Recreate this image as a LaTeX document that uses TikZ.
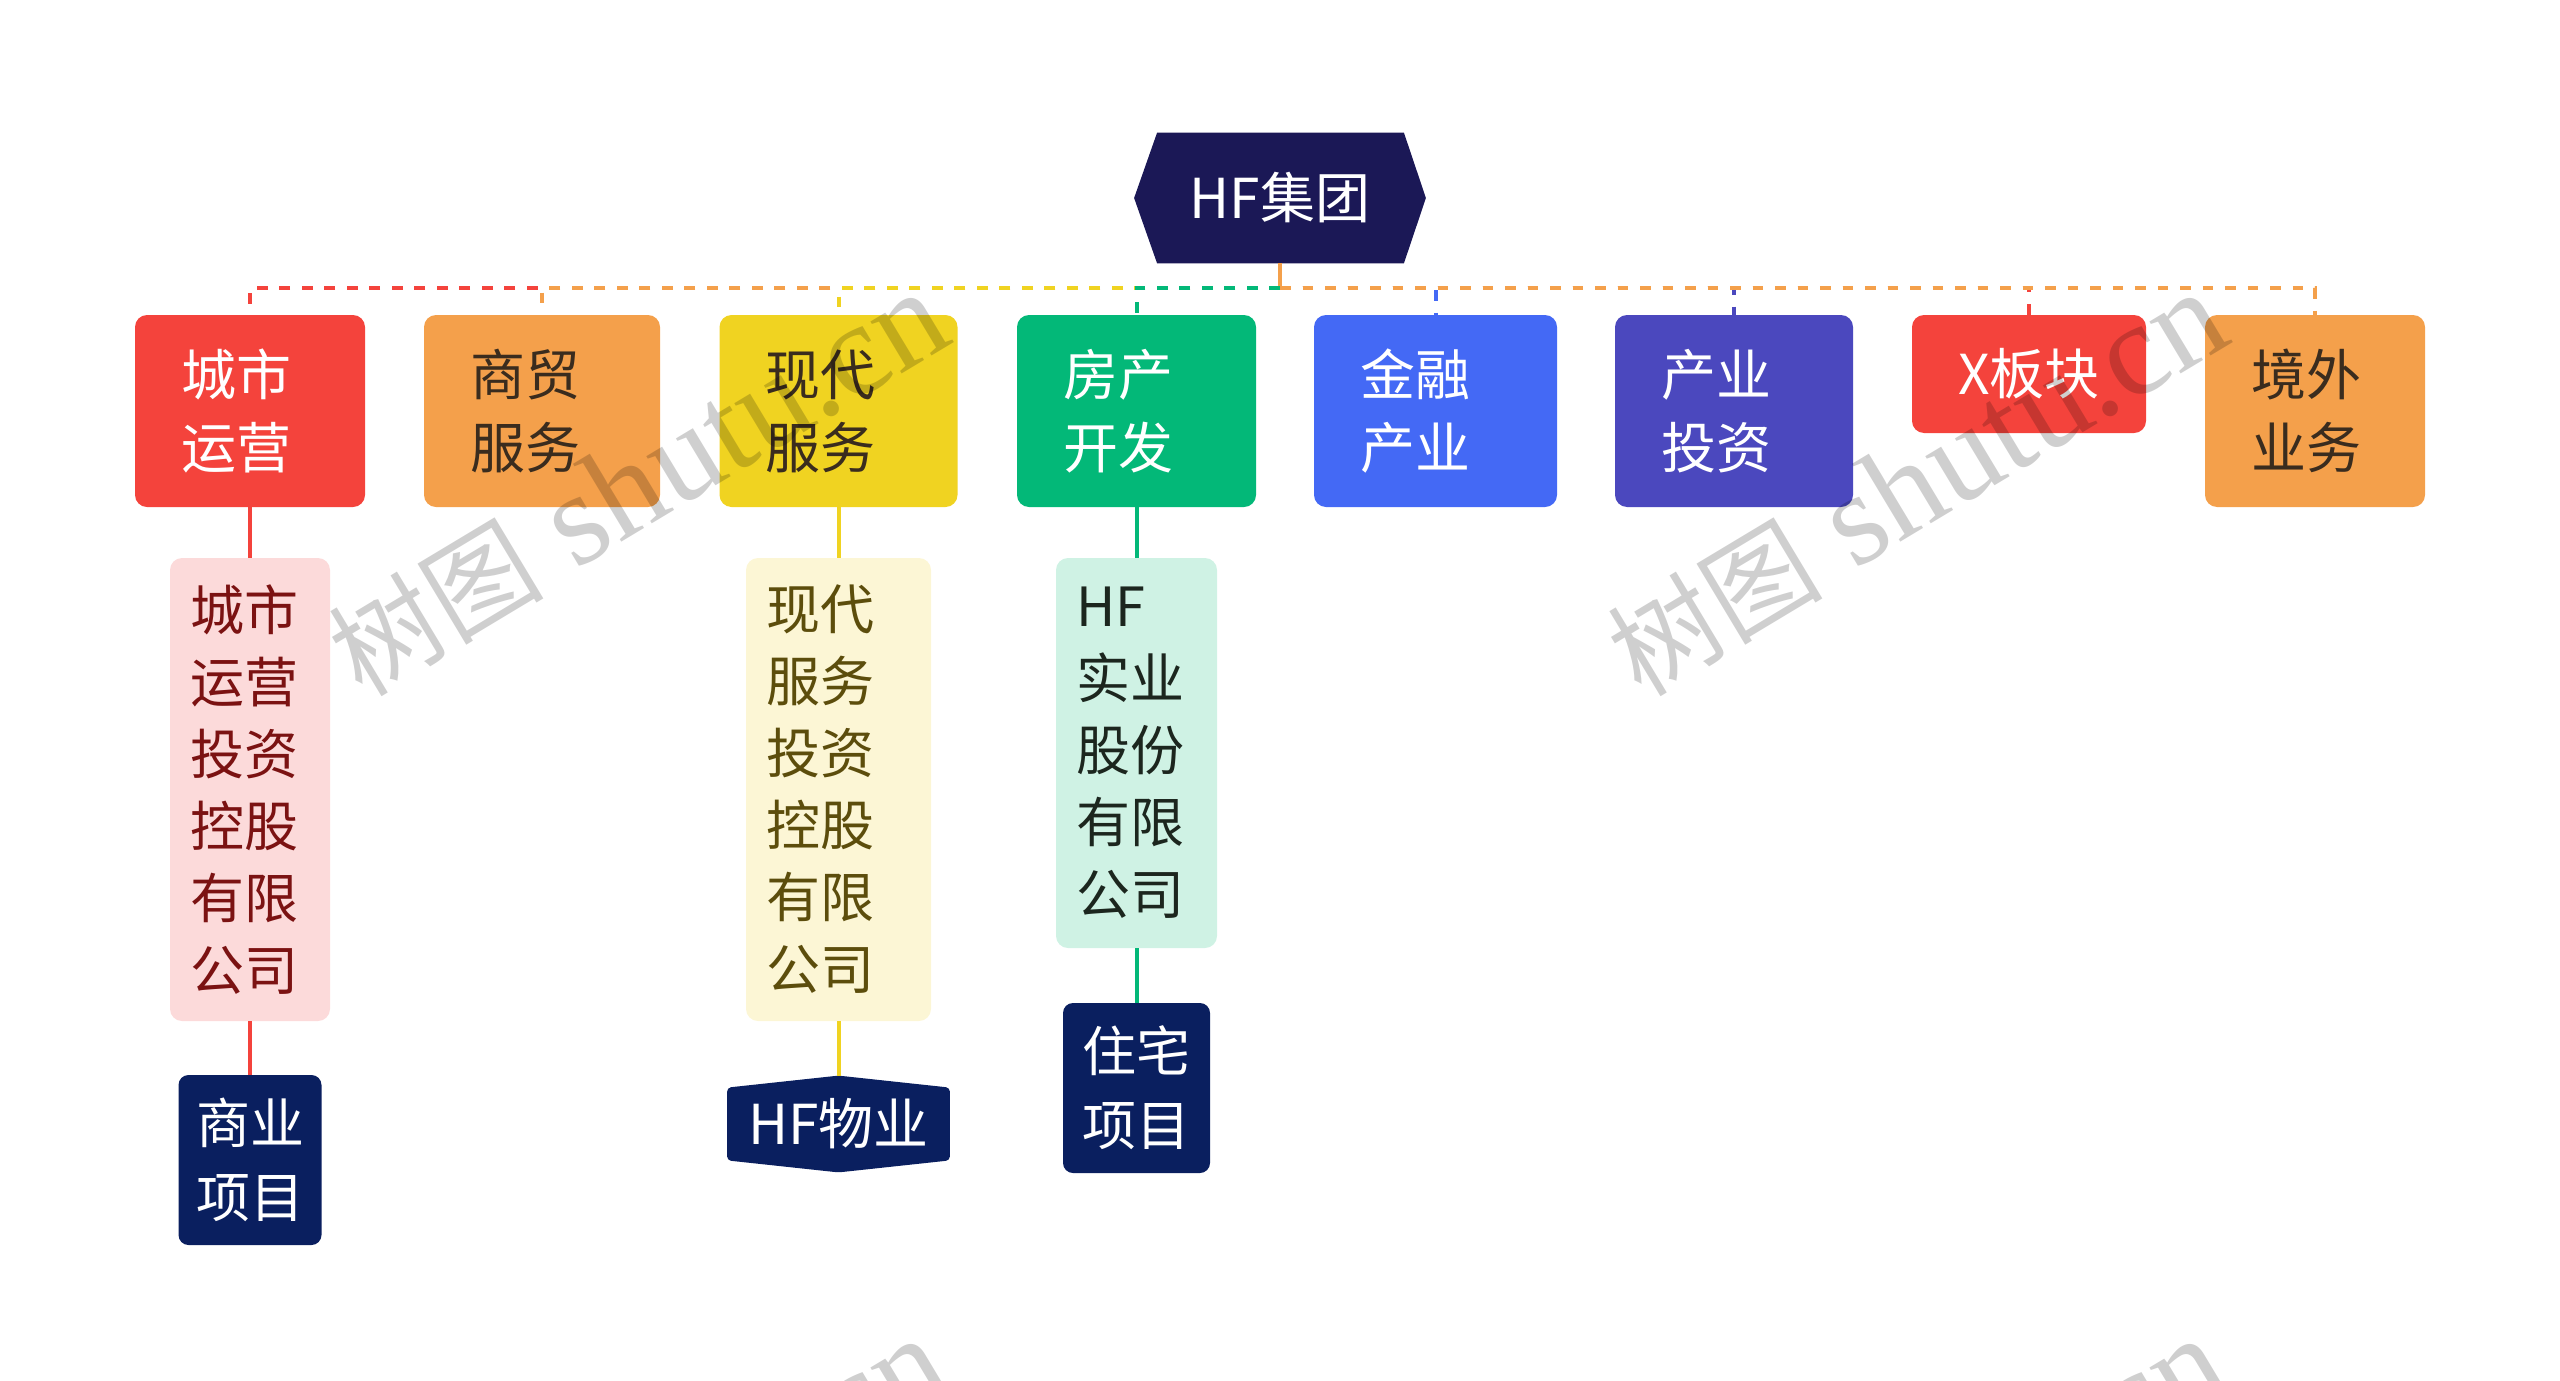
\documentclass[tikz,border=0pt]{standalone}
\usepackage{fontspec}
\newfontfamily\cjk{Noto Sans CJK SC}
\newfontfamily\wmserif{Liberation Serif}
\usetikzlibrary{backgrounds}
\definecolor{cRed}{HTML}{F4433C}
\definecolor{cOrange}{HTML}{F4A04B}
\definecolor{cYellow}{HTML}{F0D321}
\definecolor{cGreen}{HTML}{03B878}
\definecolor{cBlue}{HTML}{4469F5}
\definecolor{cIndigo}{HTML}{4B48BE}
\definecolor{cRoot}{HTML}{1B1856}
\definecolor{cNavy}{HTML}{0A1F5F}
\definecolor{cDark}{HTML}{3A2C1E}
\definecolor{cPink}{HTML}{FCDADA}
\definecolor{cMaroon}{HTML}{7B1212}
\definecolor{cCream}{HTML}{FCF6D5}
\definecolor{cOlive}{HTML}{5C4D0C}
\definecolor{cMint}{HTML}{CFF2E4}
\definecolor{cDeep}{HTML}{1C261E}
\tikzset{
  l1box/.style={rounded corners=6pt, inner xsep=23pt, inner ysep=0pt, align=left,
    minimum height=96pt, font=\cjk\fontsize{27.5pt}{36.5pt}\selectfont},
  l2box/.style={rounded corners=6pt, inner xsep=10pt, inner ysep=0pt, align=left,
    font=\cjk\fontsize{27pt}{36pt}\selectfont},
  l3box/.style={rounded corners=5pt, inner ysep=0pt, align=left, minimum height=85pt,
    fill=cNavy, text=white, font=\cjk\fontsize{27pt}{37pt}\selectfont},
  busline/.style={line width=2pt, dash pattern=on 5.35pt off 5.9pt},
  link/.style={line width=2pt},
  wm/.style={rotate=31, anchor=base west, text=black, text opacity=0.19,
    font=\wmserif\fontsize{66pt}{70pt}\selectfont}
}
\newcommand\wmtext{{\cjk\fontsize{54pt}{60pt}\selectfont 树图} shutu.cn}
\begin{document}
\begin{tikzpicture}[x=0.5pt,y=-0.5pt]
\useasboundingbox (0,0) rectangle (2560,1381);

% root
\node[inner sep=0pt, minimum width=145.5pt, minimum height=65pt, text=white,
  font=\cjk\fontsize{27.5pt}{33pt}\selectfont] (root) at (1280,198) {HF集团};
\begin{scope}[on background layer]
\fill[cRoot] (root.west) -- ([xshift=11.5pt]root.north west) -- ([xshift=-11pt]root.north east)
  -- (root.east) -- ([xshift=-11pt]root.south east) -- ([xshift=11.5pt]root.south west) -- cycle;
\end{scope}

% level 1
\node[l1box, fill=cRed, text=white, text width=69pt] (n1) at (250,411) {城市\\运营};
\node[l1box, fill=cOrange, text=cDark, text width=72pt] (n2) at (542,411) {商贸\\服务};
\node[l1box, fill=cYellow, text=cDark, text width=73pt] (n3) at (838.5,411) {现代\\服务};
\node[l1box, fill=cGreen, text=white, text width=73.5pt] (n4) at (1136.5,411) {房产\\开发};
\node[l1box, fill=cBlue, text=white, text width=75.5pt] (n5) at (1435.5,411) {金融\\产业};
\node[l1box, fill=cIndigo, text=white, text width=73pt] (n6) at (1734,411) {产业\\投资};
\node[l1box, fill=cRed, text=white, text width=71pt, minimum height=59pt] (n7) at (2029,374) {X板块};
\node[l1box, fill=cOrange, text=cDark, text width=64pt] (n8) at (2315,411) {境外\\业务};

% level 2
\node[l2box, fill=cPink, text=cMaroon, text width=60pt, minimum height=231.5pt] (a) at (250,789.5)
  {城市\\运营\\投资\\控股\\有限\\公司};
\node[l2box, fill=cCream, text=cOlive, text width=72.5pt, minimum height=231.5pt] (b) at (838.5,789.5)
  {现代\\服务\\投资\\控股\\有限\\公司};
\node[l2box, fill=cMint, text=cDeep, text width=60.5pt, minimum height=195pt] (c) at (1136.5,753)
  {HF\\实业\\股份\\有限\\公司};

% level 3
\node[l3box, text width=54pt, inner xsep=8.75pt] (d) at (250,1160) {商业\\项目};
\node[l3box, text width=54pt, inner xsep=9.75pt] (f) at (1136.5,1088) {住宅\\项目};
\node[inner sep=0pt, minimum width=111pt, minimum height=48pt, text=white,
  font=\cjk\fontsize{27.5pt}{33pt}\selectfont] (e) at (838.5,1124) {HF物业};
\begin{scope}[on background layer]
\fill[cNavy, rounded corners=2pt] (e.north) -- ([yshift=-6pt]e.north east) -- ([yshift=6pt]e.south east)
  -- (e.south) -- ([yshift=6pt]e.south west) -- ([yshift=-6pt]e.north west) -- cycle;
\end{scope}

% dashed bus connectors
\coordinate (bus) at (1280,288);
\draw[link, cOrange] (root.south) -- (bus);
\draw[busline, cRed] (bus) -| (n1.north);
\draw[busline, cOrange] (bus) -| (n2.north);
\draw[busline, cYellow] (bus) -| (n3.north);
\draw[busline, cGreen] (bus) -| (n4.north);
\draw[busline, cBlue] (bus) -| (n5.north);
\draw[busline, cIndigo] (bus) -| (n6.north);
\draw[busline, cRed] (bus) -| (n7.north);
\draw[busline, cOrange] (bus) -| (n8.north);

% solid connectors
\draw[link, cRed] (n1.south) -- (a.north);
\draw[link, cRed] (a.south) -- (d.north);
\draw[link, cYellow] (n3.south) -- (b.north);
\draw[link, cYellow] (b.south) -- (e.north);
\draw[link, cGreen] (n4.south) -- (c.north);
\draw[link, cGreen] (c.south) -- (f.north);

% watermarks
\begin{scope}
\clip (0,0) rectangle (2560,1381);
\node[wm] (w1) at (356,702) {\wmtext};
\node[wm] (w2) at (1635,702) {\wmtext};
\node[wm] (w3) at (356,1748) {\wmtext};
\node[wm] (w4) at (1635,1748) {\wmtext};
\end{scope}
\end{tikzpicture}
\end{document}
